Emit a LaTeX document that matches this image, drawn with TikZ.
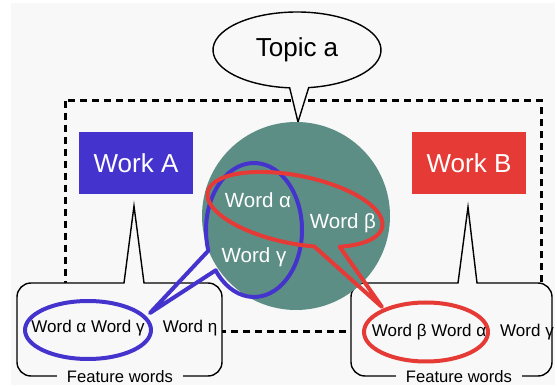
\documentclass[tikz,border=0pt]{standalone}
\usepackage{fontspec}
\setmainfont{Liberation Sans}
\definecolor{bg}{RGB}{248,248,248}
\definecolor{teal}{RGB}{93,142,134}
\definecolor{wblue}{RGB}{68,51,204}
\definecolor{wred}{RGB}{229,58,53}
\tikzset{
  callout/.style={draw=black, line width=1.4pt, fill=bg, line join=miter},
  workbox/.style={minimum width=114pt, minimum height=62pt, inner sep=0pt, text=white, font=\fontsize{26}{30}\selectfont},
  circtext/.style={text=white, font=\fontsize{20.5}{24}\selectfont, inner sep=0pt},
  wordtext/.style={text=black, font=\fontsize{17}{20}\selectfont, inner sep=0pt},
  feat/.style={fill=bg, inner xsep=10pt, inner ysep=1pt, font=\fontsize{16.6}{19}\selectfont},
  bluering/.style={draw=wblue, line width=4pt, line join=round},
  redring/.style={draw=wred, line width=4pt, line join=round},
}
\begin{document}
\begin{tikzpicture}[x=1pt,y=1pt]
\useasboundingbox (0,0) rectangle (557,-387);
\fill[bg] (11,-3) rectangle (555,-385);
% dashed frame
\draw[line width=3pt, dash pattern=on 7pt off 5pt] (65.5,-101) rectangle (541,-332);
% work boxes
\node[workbox, fill=wblue] (workA) at (136,-163) {Work A};
\node[workbox, fill=wred] (workB) at (469,-163) {Work B};
% left callout box
\draw[callout] (120,-376) -- (31,-376) arc[start angle=270, end angle=180, radius=14pt]
  -- (17,-297) arc[start angle=180, end angle=90, radius=14pt]
  -- (124,-283) -- (134,-206) -- (144,-283)
  -- (208,-283) arc[start angle=90, end angle=0, radius=14pt]
  -- (222,-362) arc[start angle=0, end angle=-90, radius=14pt] -- cycle;
% right callout box
\draw[callout] (459,-376) -- (365,-376) arc[start angle=270, end angle=180, radius=14pt]
  -- (351,-297) arc[start angle=180, end angle=90, radius=14pt]
  -- (458,-283) -- (468,-207) -- (477,-283)
  -- (538,-283) arc[start angle=90, end angle=0, radius=14pt]
  -- (552,-362) arc[start angle=0, end angle=-90, radius=14pt] -- cycle;
\node[feat] (featA) at (120,-377) {Feature words};
\node[feat] (featB) at (459,-377) {Feature words};
% topic callout
\begin{scope}[shift={(297,-50)}]
\draw[callout] (278:84pt and 38pt) arc[start angle=278, end angle=625, x radius=84pt, y radius=38pt] -- (1,-72) -- cycle;
\node[font=\fontsize{26}{30}\selectfont, inner sep=0pt] (topic) at (0,0) {Topic a};
\end{scope}
% big circle
\fill[teal] (296,-216) circle[radius=94pt];
\node[circtext] (ca) at (258,-200) {Word α};
\node[circtext] (cb) at (343,-223) {Word β};
\node[circtext] (cg) at (254,-257) {Word γ};
% blue ellipse with tail
\begin{scope}[shift={(254,-230)}]
\draw[bluering] (217:48pt and 67pt) arc[start angle=217, end angle=558, x radius=48pt, y radius=67pt] -- (-104,-83) -- cycle;
\end{scope}
% red ellipse with tail
\begin{scope}[shift={(295,-209.5)}, rotate=-11.2]
\draw[redring] (-55:89pt and 34pt) arc[start angle=-55, end angle=287, x radius=89pt, y radius=34pt] -- (104.2,-78.7) -- cycle;
\end{scope}
% small ellipses
\draw[bluering] (88,-330) ellipse[x radius=63pt, y radius=29pt];
\draw[redring] (426,-332) ellipse[x radius=62pt, y radius=29.5pt];
\node[wordtext] (la) at (88,-328) {Word α Word γ};
\node[wordtext] (le) at (190,-328) {Word η};
\node[wordtext] (ra) at (429,-332) {Word β Word α};
\node[wordtext] (rg) at (527,-332) {Word γ};
\end{tikzpicture}
\end{document}
